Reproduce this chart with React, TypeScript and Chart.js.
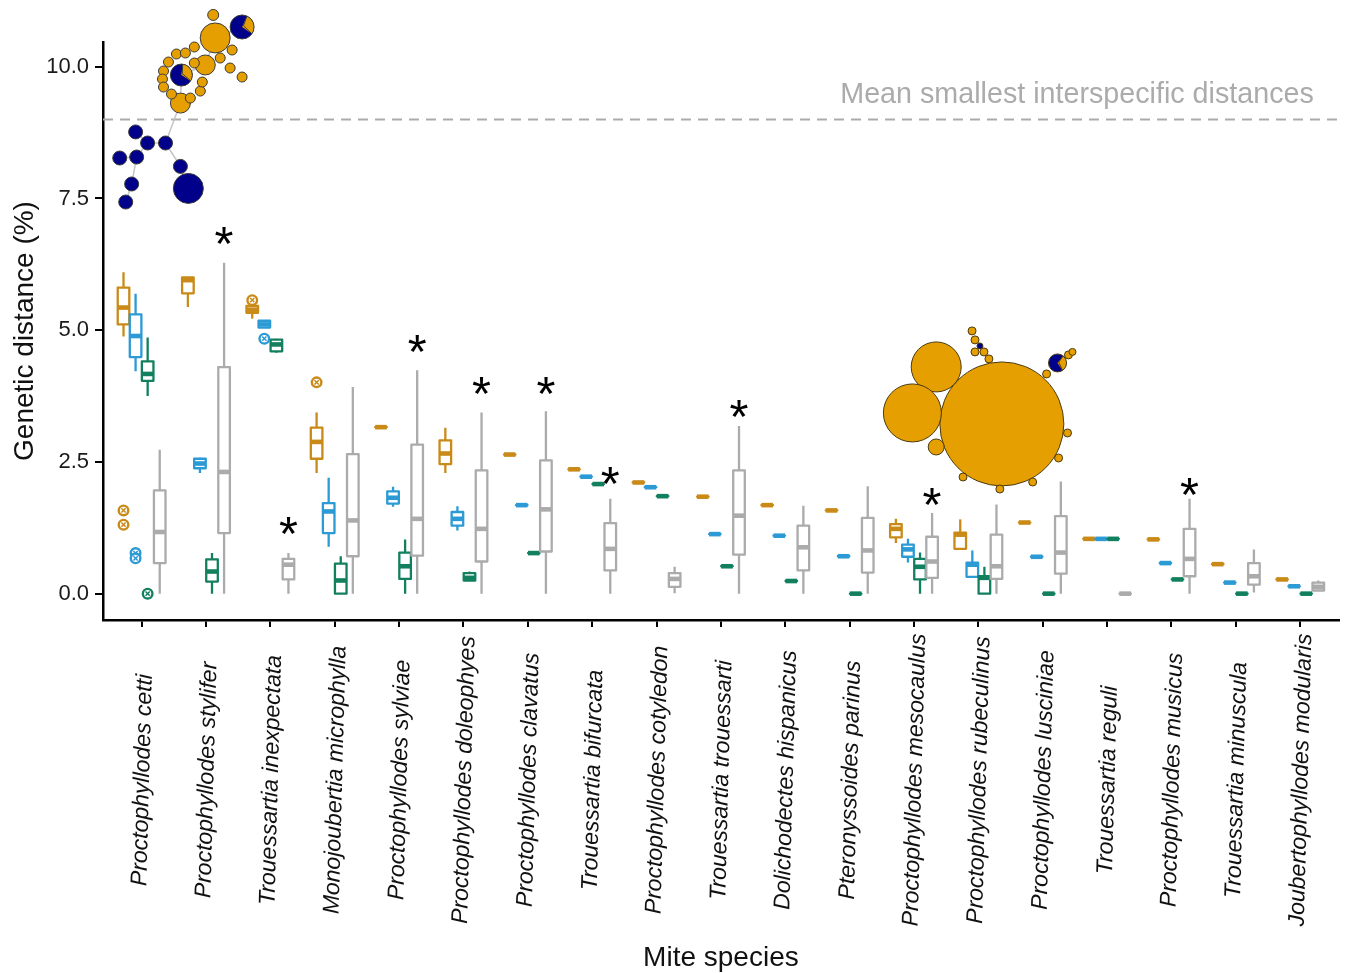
import React, { useEffect, useRef } from "react";
import { Chart, registerables } from "chart.js";
Chart.register(...registerables);

const FONT = '"Liberation Sans", Arial, Helvetica, sans-serif';

const species = [
  "Proctophyllodes cetti",
  "Proctophyllodes stylifer",
  "Trouessartia inexpectata",
  "Monojoubertia microphylla",
  "Proctophyllodes sylviae",
  "Proctophyllodes doleophyes",
  "Proctophyllodes clavatus",
  "Trouessartia bifurcata",
  "Proctophyllodes cotyledon",
  "Trouessartia trouessarti",
  "Dolichodectes hispanicus",
  "Pteronyssoides parinus",
  "Proctophyllodes mesocaulus",
  "Proctophyllodes rubeculinus",
  "Proctophyllodes lusciniae",
  "Trouessartia reguli",
  "Proctophyllodes musicus",
  "Trouessartia minuscula",
  "Joubertophyllodes modularis",
];

// [lower whisker, Q1, median, Q3, upper whisker]
const orangeStats = [
  [4.88, 5.11, 5.43, 5.81, 6.1],
  [5.44, 5.7, 5.95, 6.0, 6.0],
  [5.22, 5.33, 5.39, 5.46, 5.46],
  [2.29, 2.56, 2.88, 3.15, 3.44],
  [3.16, 3.16, 3.16, 3.16, 3.16],
  [2.29, 2.46, 2.66, 2.91, 3.15],
  [2.64, 2.64, 2.64, 2.64, 2.64],
  [2.36, 2.36, 2.36, 2.36, 2.36],
  [2.11, 2.11, 2.11, 2.11, 2.11],
  [1.84, 1.84, 1.84, 1.84, 1.84],
  [1.68, 1.68, 1.68, 1.68, 1.68],
  [1.58, 1.58, 1.58, 1.58, 1.58],
  [0.96, 1.07, 1.23, 1.32, 1.42],
  [0.85, 0.85, 1.12, 1.16, 1.41],
  [1.35, 1.35, 1.35, 1.35, 1.35],
  [1.04, 1.04, 1.04, 1.04, 1.04],
  [1.03, 1.03, 1.03, 1.03, 1.03],
  [0.56, 0.56, 0.56, 0.56, 0.56],
  [0.27, 0.27, 0.27, 0.27, 0.27],
];
const blueStats = [
  [4.22, 4.49, 4.89, 5.3, 5.69],
  [2.29, 2.38, 2.47, 2.56, 2.58],
  [5.05, 5.05, 5.11, 5.18, 5.18],
  [0.89, 1.15, 1.56, 1.72, 2.2],
  [1.65, 1.71, 1.82, 1.94, 2.03],
  [1.2, 1.29, 1.42, 1.55, 1.66],
  [1.68, 1.68, 1.68, 1.68, 1.68],
  [2.22, 2.22, 2.22, 2.22, 2.22],
  [2.02, 2.02, 2.02, 2.02, 2.02],
  [1.13, 1.13, 1.13, 1.13, 1.13],
  [1.1, 1.1, 1.1, 1.1, 1.1],
  [0.71, 0.71, 0.71, 0.71, 0.71],
  [0.59, 0.7, 0.84, 0.93, 1.04],
  [0.32, 0.32, 0.55, 0.59, 0.82],
  [0.7, 0.7, 0.7, 0.7, 0.7],
  [1.04, 1.04, 1.04, 1.04, 1.04],
  [0.58, 0.58, 0.58, 0.58, 0.58],
  [0.21, 0.21, 0.21, 0.21, 0.21],
  [0.14, 0.14, 0.14, 0.14, 0.14],
];
const greenStats = [
  [3.75, 4.04, 4.17, 4.41, 4.86],
  [0.0, 0.23, 0.42, 0.65, 0.77],
  [4.57, 4.6, 4.73, 4.82, 4.84],
  [0.0, 0.0, 0.25, 0.57, 0.71],
  [0.0, 0.28, 0.52, 0.78, 1.03],
  [0.25, 0.25, 0.3, 0.39, 0.42],
  [0.77, 0.77, 0.77, 0.77, 0.77],
  [2.08, 2.08, 2.08, 2.08, 2.08],
  [1.85, 1.85, 1.85, 1.85, 1.85],
  [0.52, 0.52, 0.52, 0.52, 0.52],
  [0.24, 0.24, 0.24, 0.24, 0.24],
  [0.0, 0.0, 0.0, 0.0, 0.0],
  [0.0, 0.27, 0.51, 0.66, 0.78],
  [0.0, 0.0, 0.3, 0.33, 0.51],
  [0.0, 0.0, 0.0, 0.0, 0.0],
  [1.04, 1.04, 1.04, 1.04, 1.04],
  [0.27, 0.27, 0.27, 0.27, 0.27],
  [0.0, 0.0, 0.0, 0.0, 0.0],
  [0.0, 0.0, 0.0, 0.0, 0.0],
];
const grayStats = [
  [0.0, 0.58, 1.17, 1.96, 2.73],
  [0.0, 1.15, 2.31, 4.3, 6.28],
  [0.0, 0.27, 0.55, 0.66, 0.77],
  [0.0, 0.71, 1.39, 2.65, 3.92],
  [0.0, 0.72, 1.42, 2.83, 4.24],
  [0.0, 0.61, 1.23, 2.34, 3.44],
  [0.0, 0.8, 1.6, 2.53, 3.46],
  [0.0, 0.44, 0.85, 1.34, 1.8],
  [0.01, 0.13, 0.28, 0.39, 0.51],
  [0.0, 0.74, 1.48, 2.34, 3.18],
  [0.0, 0.44, 0.88, 1.29, 1.67],
  [0.0, 0.4, 0.82, 1.44, 2.04],
  [0.0, 0.3, 0.61, 1.08, 1.53],
  [0.0, 0.28, 0.52, 1.12, 1.69],
  [0.0, 0.38, 0.78, 1.47, 2.13],
  [0.0, 0.0, 0.0, 0.0, 0.0],
  [0.0, 0.33, 0.66, 1.23, 1.8],
  [0.02, 0.17, 0.33, 0.58, 0.84],
  [0.05, 0.06, 0.13, 0.21, 0.25],
];

// outliers: [category number, value]
const orangeOutliers = [[1, 1.58], [1, 1.31], [3, 5.57], [4, 4.01]];
const blueOutliers = [[1, 0.77], [1, 0.67], [3, 4.84]];
const greenOutliers = [[1, 0.0]];

// significance asterisks on the grey series
const starCategories = [2, 3, 5, 6, 7, 8, 10, 13, 17];
const starValues = [6.79, 1.3, 4.74, 3.96, 3.96, 2.25, 3.52, 1.84, 2.04];

const thresholdValue = 9.0;
const thresholdLabel = "Mean smallest interspecific distances";
const yTickValues = [0, 2.5, 5, 7.5, 10];
const xTitle = "Mite species";
const yTitle = "Genetic distance (%)";

// haplotype network illustrations, in axis units: [x, y, radius px]
const net1Navy = [
  [0.907, 8.763, 7], [1.093, 8.553, 7], [1.371, 8.553, 7], [0.66, 8.268, 7],
  [0.923, 8.287, 7], [0.845, 7.775, 7], [0.753, 7.433, 7], [1.603, 8.109, 7],
  [1.726, 7.691, 15],
];
const net1Orange = [
  [1.603, 9.311, 10], [2.143, 10.547, 15], [1.989, 10.034, 10], [2.112, 10.983, 5.5],
  [2.561, 9.805, 5], [2.375, 9.976, 5], [2.406, 10.318, 5], [2.221, 10.166, 5],
  [1.541, 10.242, 5], [1.68, 10.261, 5], [1.819, 10.375, 5], [1.417, 10.09, 5],
  [1.34, 9.919, 5], [1.324, 9.767, 5], [1.34, 9.615, 5], [1.464, 9.482, 5],
  [1.757, 9.406, 5], [1.912, 9.539, 5], [1.943, 9.71, 5], [1.819, 10.071, 5],
];
// [x, y, radius px, orange share, start angle (rad)]
const net1Pies = [[1.618, 9.843, 11, 0.32, -1.45], [2.561, 10.755, 12, 0.28, -1.15]];
const net1Edges = [
  [1.603, 9.311, 1.371, 8.553], [1.371, 8.553, 1.603, 8.109], [1.603, 8.109, 1.726, 7.691],
  [0.907, 8.763, 1.093, 8.553], [1.093, 8.553, 1.371, 8.553], [0.66, 8.268, 0.923, 8.287],
  [0.923, 8.287, 1.093, 8.553], [0.923, 8.287, 0.845, 7.775], [0.845, 7.775, 0.753, 7.433],
  [1.618, 9.843, 1.603, 9.311], [1.618, 9.843, 1.989, 10.034], [1.989, 10.034, 2.143, 10.547],
  [2.143, 10.547, 2.561, 10.755],
];
const net2Orange = [
  [14.365, 3.221, 62], [13.345, 4.303, 25], [12.975, 3.43, 29], [13.345, 2.784, 8],
  [13.762, 2.214, 4], [14.334, 1.986, 4], [14.844, 2.119, 4], [15.246, 2.575, 4],
  [15.385, 3.05, 4], [15.06, 4.17, 4], [14.164, 4.455, 4], [14.087, 4.588, 4],
  [13.948, 4.588, 4], [13.948, 4.816, 4], [13.902, 4.987, 4], [15.4, 4.531, 4],
  [15.462, 4.588, 3.5],
];
const net2Navy = [[14.025, 4.702, 3]];
const net2Pies = [[15.23, 4.379, 9, 0.3, -0.9]];

const COLORS = ["#C98A17", "#2C9AD4", "#12805F", "#ABABAB"];
const DODGE = [-0.28125, -0.09375, 0.09375, 0.28125];
const HALF_BOX = 0.09;
const ORANGE_FILL = "#E69F00";
const NAVY_FILL = "#00008B";

const series = [orangeStats, blueStats, greenStats, grayStats];

function drawBox(ctx: any, xs: any, ys: any, xc: number, b: number[], color: string) {
  const [lo, q1, med, q3, hi] = b;
  const xm = xs.getPixelForValue(xc);
  const x0 = xs.getPixelForValue(xc - HALF_BOX);
  const x1 = xs.getPixelForValue(xc + HALF_BOX);
  ctx.strokeStyle = color;
  ctx.lineCap = "butt";
  ctx.lineWidth = 2.3;
  ctx.beginPath();
  ctx.moveTo(xm, ys.getPixelForValue(hi));
  ctx.lineTo(xm, ys.getPixelForValue(q3));
  ctx.moveTo(xm, ys.getPixelForValue(q1));
  ctx.lineTo(xm, ys.getPixelForValue(lo));
  ctx.stroke();
  const top = ys.getPixelForValue(q3);
  const bot = ys.getPixelForValue(q1);
  ctx.lineJoin = "round";
  ctx.fillStyle = "#ffffff";
  ctx.beginPath();
  ctx.rect(x0, top, x1 - x0, bot - top);
  ctx.fill();
  ctx.stroke();
  ctx.lineWidth = 4.6;
  ctx.beginPath();
  const my = ys.getPixelForValue(med);
  ctx.moveTo(x0, my);
  ctx.lineTo(x1, my);
  ctx.stroke();
}

function drawNetwork(ctx: any, xs: any, ys: any, edges: number[][], orange: number[][], navy: number[][], pies: number[][], outline: string) {
  const px = (v: number) => xs.getPixelForValue(v);
  const py = (v: number) => ys.getPixelForValue(v);
  ctx.save();
  ctx.strokeStyle = "#c4c4c4";
  ctx.lineWidth = 1.5;
  edges.forEach((e) => {
    ctx.beginPath();
    ctx.moveTo(px(e[0]), py(e[1]));
    ctx.lineTo(px(e[2]), py(e[3]));
    ctx.stroke();
  });
  const circ = (n: number[], fill: string) => {
    ctx.beginPath();
    ctx.arc(px(n[0]), py(n[1]), n[2], 0, Math.PI * 2);
    ctx.fillStyle = fill;
    ctx.fill();
    ctx.strokeStyle = outline;
    ctx.lineWidth = 1;
    ctx.stroke();
  };
  navy.forEach((n) => circ(n, NAVY_FILL));
  orange.forEach((n) => circ(n, ORANGE_FILL));
  pies.forEach((p) => {
    const cx = px(p[0]);
    const cy = py(p[1]);
    const r = p[2];
    const a0 = p[4];
    const a1 = a0 + p[3] * Math.PI * 2;
    ctx.beginPath();
    ctx.arc(cx, cy, r, 0, Math.PI * 2);
    ctx.fillStyle = NAVY_FILL;
    ctx.fill();
    ctx.beginPath();
    ctx.moveTo(cx, cy);
    ctx.arc(cx, cy, r, a0, a1);
    ctx.closePath();
    ctx.fillStyle = ORANGE_FILL;
    ctx.fill();
    ctx.strokeStyle = outline;
    ctx.lineWidth = 1;
    ctx.beginPath();
    ctx.moveTo(cx + r * Math.cos(a0), cy + r * Math.sin(a0));
    ctx.lineTo(cx + r * 0.15 * Math.cos(a0 + 0.4), cy + r * 0.15 * Math.sin(a0 + 0.4));
    ctx.lineTo(cx + r * Math.cos(a1), cy + r * Math.sin(a1));
    ctx.stroke();
    ctx.beginPath();
    ctx.arc(cx, cy, r, 0, Math.PI * 2);
    ctx.stroke();
  });
  ctx.restore();
}

const decorPlugin = {
  id: "decor",
  beforeDatasetsDraw(chart: any) {
    const { ctx, chartArea } = chart;
    const xs = chart.scales.x;
    const ys = chart.scales.y;
    ctx.save();
    const ty = ys.getPixelForValue(thresholdValue);
    ctx.setLineDash([10, 7]);
    ctx.strokeStyle = "#ABABAB";
    ctx.lineWidth = 2;
    ctx.beginPath();
    ctx.moveTo(chartArea.left, ty);
    ctx.lineTo(chartArea.right, ty);
    ctx.stroke();
    ctx.setLineDash([]);
    ctx.font = `28.7px ${FONT}`;
    ctx.fillStyle = "#ABABAB";
    ctx.textAlign = "right";
    ctx.textBaseline = "middle";
    ctx.fillText(thresholdLabel, chartArea.right - 25, ty - 24);
    series.forEach((stats, si) => {
      stats.forEach((b, ci) => {
        drawBox(ctx, xs, ys, ci + 1 + DODGE[si], b, COLORS[si]);
      });
    });
    ctx.restore();
  },
  afterDatasetsDraw(chart: any) {
    const { ctx } = chart;
    const xs = chart.scales.x;
    const ys = chart.scales.y;
    ctx.save();
    // asterisks
    ctx.font = `100px ${FONT}`;
    const m0 = ctx.measureText("*");
    const w0 = m0.actualBoundingBoxRight + m0.actualBoundingBoxLeft;
    const size = (100 * 18) / w0;
    ctx.font = `${size}px ${FONT}`;
    ctx.textAlign = "left";
    ctx.textBaseline = "alphabetic";
    const m = ctx.measureText("*");
    ctx.fillStyle = "#000";
    starCategories.forEach((c, i) => {
      const cx = xs.getPixelForValue(c + DODGE[3]);
      const cy = ys.getPixelForValue(starValues[i]);
      const x = cx - (m.actualBoundingBoxRight - m.actualBoundingBoxLeft) / 2;
      const y = cy - (m.actualBoundingBoxDescent - m.actualBoundingBoxAscent) / 2;
      ctx.fillText("*", x, y);
    });
    ctx.restore();
    drawNetwork(ctx, xs, ys, net1Edges, net1Orange, net1Navy, net1Pies, "#3a3a3a");
    drawNetwork(ctx, xs, ys, [], net2Orange, net2Navy, net2Pies, "#4a3a12");
  },
  afterDraw(chart: any) {
    const { ctx, chartArea } = chart;
    const xs = chart.scales.x;
    ctx.save();
    ctx.font = `italic 23px ${FONT}`;
    ctx.fillStyle = "#111";
    ctx.textAlign = "center";
    ctx.textBaseline = "middle";
    species.forEach((name, i) => {
      const x = xs.getPixelForValue(i + 1);
      ctx.save();
      ctx.translate(x + 1, chartArea.bottom + 160);
      ctx.rotate((-88.5 * Math.PI) / 180);
      ctx.fillText(name, 0, 0);
      ctx.restore();
    });
    ctx.restore();
  },
};

function outlierData(list: number[][], si: number) {
  return list.map((p) => ({ x: p[0] + DODGE[si], y: p[1] }));
}

export default function App() {
  const ref = useRef<HTMLCanvasElement | null>(null);
  useEffect(() => {
    if (!ref.current) return;
    const outlierSets: any[] = [];
    [orangeOutliers, blueOutliers, greenOutliers].forEach((list, si) => {
      // Chart.js draws the first dataset on top, so the cross comes first
      outlierSets.push({
        data: outlierData(list, si),
        pointStyle: "crossRot",
        pointRadius: 3,
        pointBorderWidth: 1.5,
        pointBorderColor: COLORS[si],
        pointBackgroundColor: COLORS[si],
        clip: false,
      });
      outlierSets.push({
        data: outlierData(list, si),
        pointStyle: "circle",
        pointRadius: 4.8,
        pointBorderWidth: 2.4,
        pointBorderColor: COLORS[si],
        pointBackgroundColor: "#ffffff",
        clip: false,
      });
    });
    const chart = new Chart(ref.current, {
      type: "scatter",
      data: { datasets: outlierSets },
      options: {
        animation: false,
        responsive: true,
        maintainAspectRatio: false,
        layout: { padding: { top: 42, right: 3, left: 0, bottom: 0 } },
        plugins: { legend: { display: false }, tooltip: { enabled: false } },
        scales: {
          x: {
            type: "linear",
            min: 0.4,
            max: 19.6,
            afterBuildTicks: (axis: any) => {
              axis.ticks = species.map((_, i) => ({ value: i + 1 }));
            },
            afterFit: (s: any) => {
              s.height = 353;
            },
            ticks: { display: false },
            grid: { drawOnChartArea: false, drawTicks: true, tickLength: 7, color: "#000", lineWidth: 2 },
            border: { display: true, color: "#000", width: 2.5 },
            title: {
              display: true,
              text: xTitle,
              color: "#111",
              font: { family: FONT, size: 28, lineHeight: 1 },
              padding: { top: 0, bottom: 1 },
            },
          },
          y: {
            type: "linear",
            min: -0.5,
            max: 10.47,
            afterBuildTicks: (axis: any) => {
              axis.ticks = yTickValues.map((v) => ({ value: v }));
            },
            afterFit: (s: any) => {
              s.width = 103;
            },
            ticks: {
              color: "#1a1a1a",
              font: { family: FONT, size: 22 },
              padding: 6,
              callback: (v: any) => Number(v).toFixed(1),
            },
            grid: { drawOnChartArea: false, drawTicks: true, tickLength: 8, color: "#000", lineWidth: 2 },
            border: { display: true, color: "#000", width: 2.5 },
            title: {
              display: true,
              text: yTitle,
              color: "#111",
              font: { family: FONT, size: 28, lineHeight: 1 },
              padding: { top: 11, bottom: 0 },
            },
          },
        },
      },
      plugins: [decorPlugin],
    } as any);
    return () => chart.destroy();
  }, []);
  return (
    <div style={{ position: "absolute", left: 0, top: 0, width: 1346, height: 973, background: "#fff" }}>
      <canvas ref={ref} />
    </div>
  );
}
